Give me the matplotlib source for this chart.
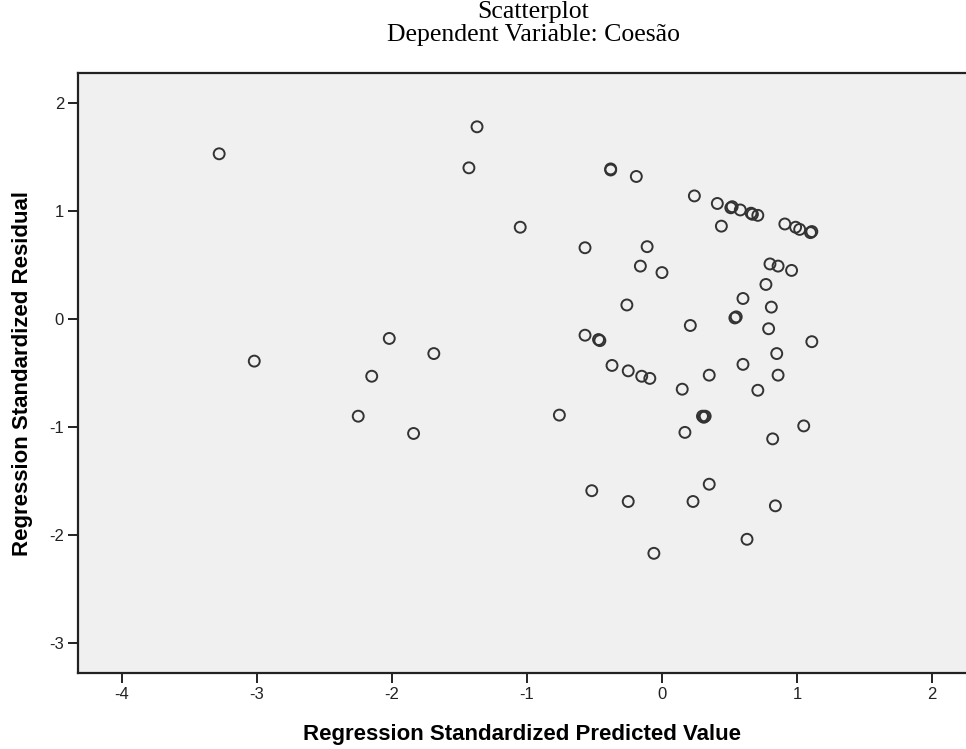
import numpy as np
import matplotlib.pyplot as plt

plt.rcParams['axes.unicode_minus'] = False

# Standardized predicted values (x) and standardized residuals (y)
pred = [-3.28, -3.02, -2.25, -2.15, -2.02, -1.84, -1.69, -1.43, -1.37, -1.05,
        -0.76, -0.57, -0.57, -0.52, -0.47, -0.46, -0.38, -0.38, -0.37, -0.26,
        -0.25, -0.25, -0.19, -0.16, -0.15, -0.11, -0.09, -0.06, 0.00, 0.15,
        0.17, 0.21, 0.23, 0.24, 0.30, 0.31, 0.32, 0.35, 0.35, 0.41,
        0.44, 0.51, 0.52, 0.54, 0.55, 0.58, 0.60, 0.60, 0.63, 0.66,
        0.67, 0.71, 0.71, 0.77, 0.79, 0.80, 0.81, 0.82, 0.84, 0.85,
        0.86, 0.86, 0.91, 0.96, 0.99, 1.02, 1.05, 1.10, 1.11, 1.11]
resid = [1.53, -0.39, -0.90, -0.53, -0.18, -1.06, -0.32, 1.40, 1.78, 0.85,
         -0.89, 0.66, -0.15, -1.59, -0.19, -0.20, 1.39, 1.38, -0.43, 0.13,
         -0.48, -1.69, 1.32, 0.49, -0.53, 0.67, -0.55, -2.17, 0.43, -0.65,
         -1.05, -0.06, -1.69, 1.14, -0.90, -0.91, -0.90, -0.52, -1.53, 1.07,
         0.86, 1.03, 1.04, 0.01, 0.02, 1.01, -0.42, 0.19, -2.04, 0.98,
         0.97, 0.96, -0.66, 0.32, -0.09, 0.51, 0.11, -1.11, -1.73, -0.32,
         0.49, -0.52, 0.88, 0.45, 0.85, 0.83, -0.99, 0.80, 0.81, -0.21]

x_ticks = [-4, -3, -2, -1, 0, 1, 2]
y_ticks = [-3, -2, -1, 0, 1, 2]

fig = plt.figure(figsize=(9.66, 7.49), dpi=100)
ax = fig.add_axes([0.0807, 0.1015, 0.9193, 0.801])
ax.set_facecolor('#f0f0f0')

ax.scatter(pred, resid, s=62, facecolors='none', edgecolors='#333333', linewidths=1.4)

ax.set_xlim(-4.326, 2.252)
ax.set_ylim(-3.278, 2.278)
ax.set_xticks(x_ticks)
ax.set_yticks(y_ticks)
ax.tick_params(direction='out', length=7, width=1.4, color='#222222',
               labelsize=12, labelcolor='#222222', pad=3)
for lbl in ax.get_xticklabels() + ax.get_yticklabels():
    lbl.set_family('Liberation Sans')

for side in ['left', 'bottom', 'top']:
    ax.spines[side].set_linewidth(1.6)
    ax.spines[side].set_color('#222222')
ax.spines['right'].set_visible(False)

ax.set_xlabel('Regression Standardized Predicted Value', fontsize=16,
              fontweight='bold', family='Liberation Sans', labelpad=16)
ax.set_ylabel('Regression Standardized Residual', fontsize=16,
              fontweight='bold', family='Liberation Sans', labelpad=12)

fig.text(0.552, 0.998, 'Scatterplot\nDependent Variable: Coesão', ha='center', va='top',
         fontsize=18.5, family='Liberation Serif', linespacing=1.05)

fig.savefig('out.png', dpi=100, facecolor='white')
